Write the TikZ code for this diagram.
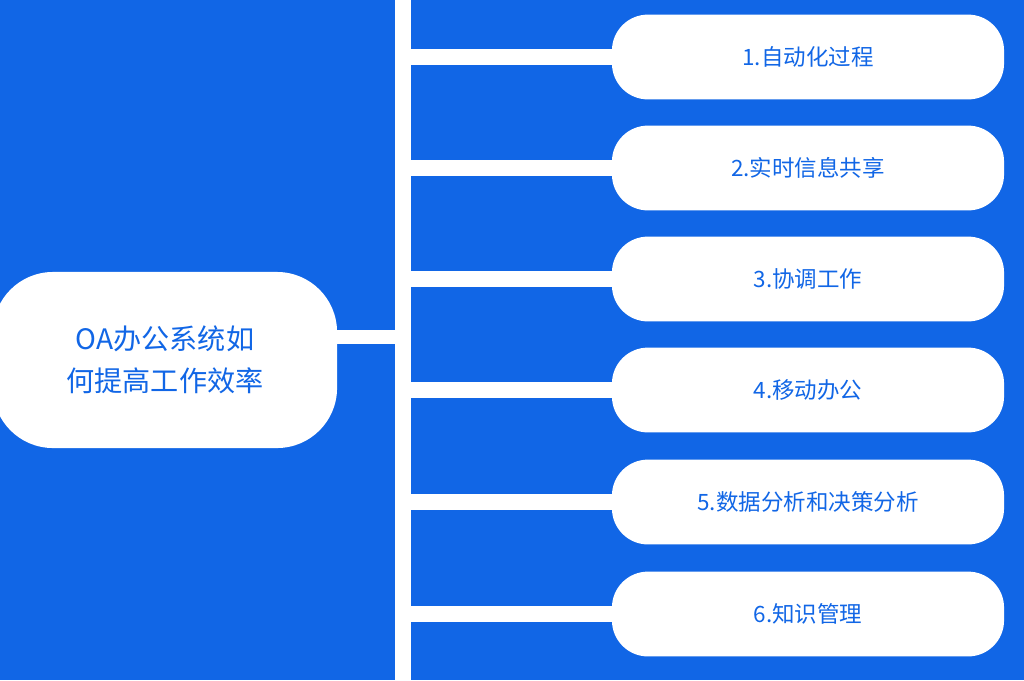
\documentclass[tikz,border=0pt]{standalone}
\usepackage{fontspec}
\newfontfamily\cjk{Noto Sans CJK SC}
\definecolor{bg}{HTML}{1166E6}
\begin{document}
\begin{tikzpicture}[x=0.025cm,y=-0.025cm,
    item/.style={draw=none, fill=white, rounded corners=0.9cm, minimum width=9.8cm, minimum height=2.12cm, text=bg, font=\cjk\fontsize{16}{18}\selectfont},
    bar/.style={white, line width=0.4cm}]
    \fill[bg] (0,0) rectangle (1024,680);
    \useasboundingbox (0,0) rectangle (1024,680);
    \fill[white] (395,0) rectangle (411,680);

    \node[item, minimum width=8.6cm, minimum height=4.4cm, rounded corners=1.5cm, align=center,
        font=\cjk\fontsize{20}{30}\selectfont] (main) at (165,360) {OA办公系统如\\何提高工作效率};
    \coordinate (hub) at (395,337);
    \draw[bar, line width=0.36cm] (main.east |- hub) -- (hub);

    \node[item] (1) at (808,57) {1.自动化过程};
    \node[item] (2) at (808,168) {2.实时信息共享};
    \node[item] (3) at (808,279) {3.协调工作};
    \node[item] (4) at (808,390) {4.移动办公};
    \node[item] (5) at (808,502) {5.数据分析和决策分析};
    \node[item] (6) at (808,614) {6.知识管理};

    \foreach \i in {1,...,6}
        \draw[bar] (411,0 |- \i.west) -- (\i.west);
\end{tikzpicture}
\end{document}
